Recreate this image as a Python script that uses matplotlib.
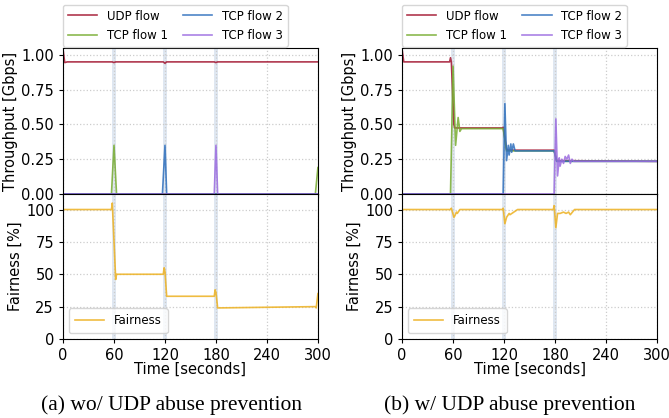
import matplotlib
matplotlib.use("Agg")
import matplotlib.pyplot as plt

# ---- data: (a) without UDP abuse prevention ----
a_udp_t = [0, 2, 5, 58, 60, 62, 118, 120, 122, 124, 178, 180, 182, 300]
a_udp_v = [1.04, 0.945, 0.95, 0.95, 0.945, 0.95, 0.95, 0.94, 0.95, 0.95, 0.95, 0.945, 0.95, 0.95]
a_tcp1_t = [0, 57, 60, 63, 297, 300]
a_tcp1_v = [0, 0, 0.35, 0, 0, 0.19]
a_tcp2_t = [0, 117, 120, 122, 300]
a_tcp2_v = [0, 0, 0.35, 0, 0]
a_tcp3_t = [0, 178, 180, 182, 300]
a_tcp3_v = [0, 0, 0.35, 0, 0]
a_fair_t = [0, 57, 58, 62, 63, 118, 119, 120, 122, 178, 179, 180, 182, 297, 298, 300]
a_fair_v = [100, 100, 105, 46, 50, 50, 55, 52, 33, 33, 38, 36, 24, 25, 24, 35]

# ---- data: (b) with UDP abuse prevention ----
b_udp_t = [0, 2, 56, 57, 58, 61, 62, 118, 119, 123, 124, 178, 179, 182, 300]
b_udp_v = [1.04, 0.95, 0.95, 0.98, 0.95, 0.5, 0.475, 0.475, 0.48, 0.32, 0.315, 0.315, 0.315, 0.24, 0.235]
b_tcp1_t = [0, 57, 59, 60, 63, 66, 68, 70, 119, 123, 179, 182, 300]
b_tcp1_v = [0, 0, 0.6, 0.92, 0.35, 0.55, 0.45, 0.47, 0.47, 0.31, 0.31, 0.235, 0.235]
b_tcp2_t = [0, 119, 121, 123, 125, 126, 128, 129, 131, 133, 179, 182, 300]
b_tcp2_v = [0, 0, 0.65, 0.24, 0.35, 0.28, 0.36, 0.30, 0.36, 0.31, 0.31, 0.235, 0.235]
b_tcp3_t = [0, 179, 181, 183, 185, 186, 188, 190, 192, 194, 196, 198, 200, 202, 300]
b_tcp3_v = [0, 0, 0.54, 0.13, 0.26, 0.2, 0.25, 0.22, 0.27, 0.25, 0.28, 0.22, 0.25, 0.235, 0.235]
b_fair_t = [0, 57, 58, 61, 62, 64, 65, 68, 118, 119, 121, 123, 126, 127, 136,
            178, 179, 181, 183, 186, 190, 193, 196, 198, 203, 300]
b_fair_v = [100, 100, 101, 94, 95, 98, 97, 100, 100, 101, 89, 94, 97, 96, 100,
            100, 103, 86, 97, 97, 98, 97, 98, 96, 100, 100]

events = [60, 120, 180]
xticks = [0, 60, 120, 180, 240, 300]

c_udp = "#a2142f"
c_tcp1 = "#77ac30"
c_tcp2 = "#2e6fbd"
c_tcp3 = "#9b6be0"
c_fair = "#edb120"

plt.rcParams["font.family"] = "DejaVu Sans"

fig = plt.figure(figsize=(6.69, 4.18), dpi=100)

panels = [
    (0.0942, (a_udp_t, a_udp_v, a_tcp1_t, a_tcp1_v, a_tcp2_t, a_tcp2_v, a_tcp3_t, a_tcp3_v, a_fair_t, a_fair_v)),
    (0.601, (b_udp_t, b_udp_v, b_tcp1_t, b_tcp1_v, b_tcp2_t, b_tcp2_v, b_tcp3_t, b_tcp3_v, b_fair_t, b_fair_v)),
]

for x0, d in panels:
    ax1 = fig.add_axes([x0, 0.5359, 0.381, 0.3493])
    ax2 = fig.add_axes([x0, 0.189, 0.381, 0.3469], sharex=ax1)
    for ax in (ax1, ax2):
        for e in events:
            ax.axvspan(e - 2, e + 2, color="#b0c4de", alpha=0.4, lw=0)
        ax.grid(True, linestyle=":", color="#cccccc", linewidth=0.9)
        ax.tick_params(labelsize=10.5, length=3)
    ax1.plot(d[0], d[1], color=c_udp, lw=1.2, alpha=0.85, label="UDP flow")
    ax1.plot(d[2], d[3], color=c_tcp1, lw=1.2, alpha=0.85, label="TCP flow 1")
    ax1.plot(d[4], d[5], color=c_tcp2, lw=1.2, alpha=0.85, label="TCP flow 2")
    ax1.plot(d[6], d[7], color=c_tcp3, lw=1.2, alpha=0.85, label="TCP flow 3")
    ax1.set_ylim(0, 1.05)
    ax1.set_yticks([0, 0.25, 0.5, 0.75, 1.0])
    ax1.set_ylabel("Throughput [Gbps]", fontsize=10.5, labelpad=2)
    ax1.tick_params(labelbottom=False)
    ax1.legend(loc="lower left", bbox_to_anchor=(-0.005, 1.0), ncol=2, fontsize=8.5,
               borderaxespad=0.1, columnspacing=1.3, handlelength=2.5,
               labelspacing=0.55, borderpad=0.4)

    ax2.plot(d[8], d[9], color=c_fair, lw=1.2, alpha=0.85, label="Fairness")
    ax2.set_ylim(0, 112)
    ax2.set_yticks([0, 25, 50, 75, 100])
    ax2.set_xlim(0, 300)
    ax2.set_xticks(xticks)
    ax2.set_ylabel("Fairness [%]", fontsize=10.5, labelpad=2)
    ax2.set_xlabel("Time [seconds]", fontsize=10.5, labelpad=-1)
    ax2.legend(loc="lower left", fontsize=8.5, handlelength=2.5, borderpad=0.5)

fig.text(0.256, 0.02, "(a) wo/ UDP abuse prevention", fontsize=15.5,
         family="Liberation Serif", ha="center")
fig.text(0.762, 0.02, "(b) w/ UDP abuse prevention", fontsize=15.5,
         family="Liberation Serif", ha="center")

fig.savefig("out.png", dpi=100)
